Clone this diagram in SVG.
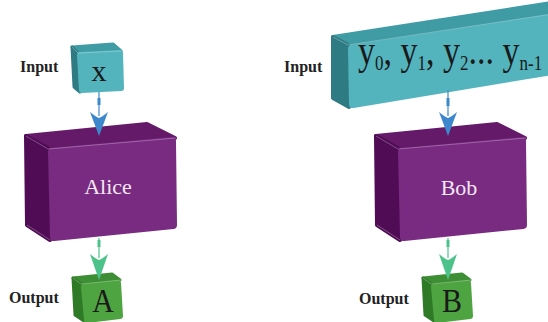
<svg xmlns="http://www.w3.org/2000/svg" width="548" height="322" viewBox="0 0 548 322">
<style>
  .lbl{font-weight:bold;font-size:16px;fill:#222}
  .big{font-size:30px;fill:#1a1a1a;text-anchor:middle}
  .name{font-size:22px;fill:#F2E8F2;text-anchor:middle}
  .f{stroke-linejoin:round}
  .cf{fill:#53B4BE;stroke:#53B4BE}
  .ct{fill:#3F9BA4;stroke:#3F9BA4}
  .cs{fill:#2F7B83;stroke:#2F7B83}
  .pf{fill:#792A81;stroke:#792A81}
  .pt{fill:#651A69;stroke:#651A69}
  .ps{fill:#500C55;stroke:#500C55}
  .gf{fill:#4EA441;stroke:#4EA441}
  .gt{fill:#3D8E34;stroke:#3D8E34}
  .gs{fill:#2F7A27;stroke:#2F7A27}
  .hl{fill:none;stroke:#ffffff;stroke-opacity:.35;stroke-width:.8}
  .bl{stroke:#3D88CC;fill:#3D88CC}
  .gr{stroke:#4DC38B;fill:#4DC38B}
</style>
<g font-family="Liberation Serif, Times New Roman, serif">
<g id="label-input-left"><text class="lbl" font-family="Liberation Serif, serif" x="20" y="72">Input</text></g>
<g id="label-output-left"><text class="lbl" font-family="Liberation Serif, serif" x="9" y="303">Output</text></g>
<g id="label-input-right"><text class="lbl" font-family="Liberation Serif, serif" x="284" y="72">Input</text></g>
<g id="label-output-right"><text class="lbl" font-family="Liberation Serif, serif" x="359" y="304">Output</text></g>

<g id="node-x">
  <polygon class="f ct" stroke-width="3" points="72,47 113,44 121,51 78,53"/>
  <polygon class="f cs" stroke-width="3" points="72,47 78,53 80,92 74,87"/>
  <polygon class="f cf" stroke-width="6" points="80,55 120,53 121,88 82,90"/>
  <polyline class="hl" points="72,47 78,53 121,51"/>
  <text class="big" font-family="Liberation Serif, serif" x="99" y="81">x</text>
</g>

<g id="node-alice">
  <polygon class="f pt" stroke-width="4" points="26,136 147,124 175,138 48,148"/>
  <polygon class="f ps" stroke-width="4" points="26,136 48,148 50,240 27,225"/>
  <polygon class="f pf" stroke-width="8" points="52,152 172,141 173,225 54,237"/>
  <polyline class="hl" points="26,136 48,149 176,138"/>
  <line class="hl" x1="27" y1="225" x2="50" y2="240"/>
  <text class="name" font-family="Liberation Serif, serif" x="108" y="194">Alice</text>
</g>

<g id="node-a">
  <polygon class="f gt" stroke-width="3" points="73,278 112,274 120,280 81,284"/>
  <polygon class="f gs" stroke-width="3" points="73,278 81,284 84,321 75,315"/>
  <polygon class="f gf" stroke-width="6" points="84,287 118,283 120,316 87,320"/>
  <polyline class="hl" points="73,278 81,284 121,280"/>
  <text class="big" font-family="Liberation Serif, serif" x="103" y="312" transform="translate(103,312) scale(1,1.12) translate(-103,-312)">A</text>
</g>

<g id="node-y">
  <polygon class="f ct" stroke-width="4" points="333,37 552,3 552,14 348,45"/>
  <polygon class="f cs" stroke-width="4" points="333,37 348,45 349,107 333,98"/>
  <polygon class="f cf" stroke-width="8" points="352,49 552,18 552,71 353,104"/>
  <polyline class="hl" points="333,37 348,45 552,14"/>
  <text transform="translate(358,64) scale(1,1.2)" x="0" y="0" font-family="Liberation Serif, serif" font-size="34" fill="#1a1a1a">y<tspan font-size="17" dy="5">0</tspan><tspan dy="-5">, y</tspan><tspan font-size="17" dy="5">1</tspan><tspan dy="-5">, y</tspan><tspan font-size="17" dy="5">2</tspan><tspan dy="-5">... y</tspan><tspan font-size="17" dy="5">n-1</tspan></text>
</g>

<g id="node-bob">
  <polygon class="f pt" stroke-width="4" points="376,136 497,124 525,138 398,148"/>
  <polygon class="f ps" stroke-width="4" points="376,136 398,148 400,240 377,225"/>
  <polygon class="f pf" stroke-width="8" points="402,152 522,141 523,225 404,237"/>
  <polyline class="hl" points="376,136 398,149 526,138"/>
  <line class="hl" x1="377" y1="225" x2="400" y2="240"/>
  <text class="name" font-family="Liberation Serif, serif" x="459" y="195">Bob</text>
</g>

<g id="node-b">
  <polygon class="f gt" stroke-width="3" points="423,278 462,274 470,280 431,284"/>
  <polygon class="f gs" stroke-width="3" points="423,278 431,284 434,321 425,315"/>
  <polygon class="f gf" stroke-width="6" points="434,287 468,283 470,316 437,320"/>
  <polyline class="hl" points="423,278 431,284 471,280"/>
  <text class="big" font-family="Liberation Serif, serif" x="452" y="312" transform="translate(452,312) scale(1,1.12) translate(-452,-312)">B</text>
</g>
</g>

<g id="connectors">
  <g class="bl">
    <line x1="99" y1="92" x2="99" y2="116" stroke-width="1.2"/>
    <rect x="97.5" y="98" width="3" height="7" stroke="none"/>
    <path d="M90,112 Q96,117 99,118 Q102,117 108,112 L99,136 Z" stroke="none"/>
  </g>
  <g class="gr">
    <line x1="99" y1="238" x2="99" y2="258" stroke-width="1.2"/>
    <rect x="97.5" y="240" width="3" height="7" stroke="none"/>
    <path d="M90,254 Q96,259 99,260 Q102,259 108,254 L99,280 Z" stroke="none"/>
  </g>
  <g class="bl">
    <line x1="448" y1="90" x2="448" y2="116" stroke-width="1.2"/>
    <rect x="446.5" y="98" width="3" height="8" stroke="none"/>
    <path d="M439,112 Q445,117 448,118 Q451,117 457,112 L448,136 Z" stroke="none"/>
  </g>
  <g class="gr">
    <line x1="448" y1="238" x2="448" y2="258" stroke-width="1.2"/>
    <rect x="446.5" y="240" width="3" height="7" stroke="none"/>
    <path d="M439,254 Q445,259 448,260 Q451,259 457,254 L448,280 Z" stroke="none"/>
  </g>
</g>
</svg>
